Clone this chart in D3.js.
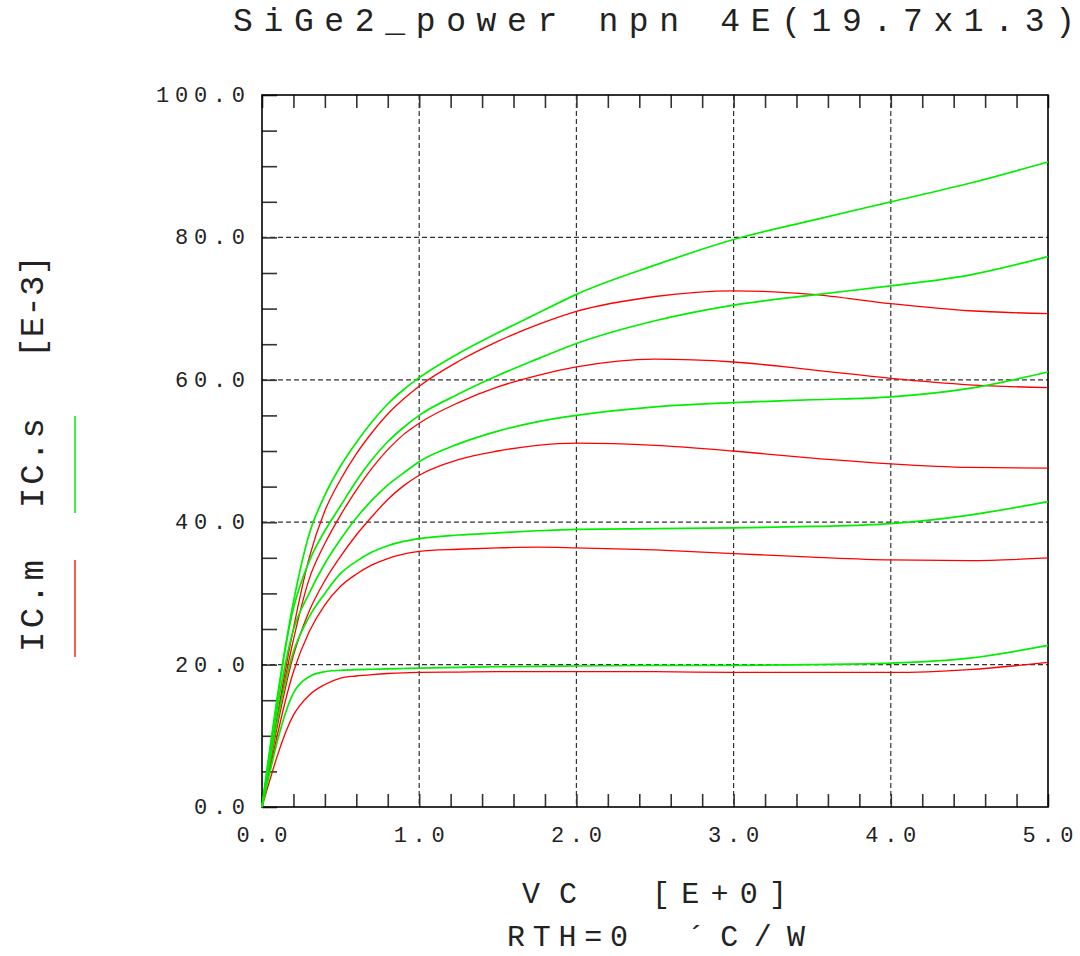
<!DOCTYPE html>
<html>
<head>
<meta charset="utf-8">
<script src="https://cdn.jsdelivr.net/npm/d3@7"></script>
<style>
  body { margin: 0; background: #fff; }
  svg text { font-family: "Liberation Mono", "DejaVu Sans Mono", monospace; fill: #222; }
</style>
</head>
<body>
<div id="chart"></div>
<script>
// collector voltage samples (V)
const vc = [0, 0.2, 0.3, 0.4, 0.5, 0.6, 0.7, 0.8, 0.9, 1.0, 1.25, 1.5, 1.75, 2.0, 2.5, 3.0, 3.5, 4.0, 4.5, 5.0];

// IC.m (measured, red) in mA
const icm1 = [0, 25.1, 35.0, 41.6, 46.0, 49.6, 52.6, 55.2, 57.3, 59.1, 62.6, 65.4, 67.7, 69.6, 71.7, 72.5, 72.0, 70.7, 69.7, 69.3];
const icm2 = [0, 23.5, 32.0, 37.0, 41.0, 44.5, 47.6, 50.2, 52.3, 53.9, 56.8, 59.0, 60.6, 61.8, 62.9, 62.5, 61.4, 60.2, 59.3, 58.9];
const icm3 = [0, 21.3, 27.5, 31.8, 35.2, 38.2, 40.8, 43.2, 45.1, 46.6, 48.8, 50.0, 50.8, 51.1, 50.8, 50.0, 49.0, 48.2, 47.7, 47.6];
const icm4 = [0, 19.0, 24.6, 28.4, 31.0, 32.7, 34.0, 34.9, 35.5, 35.9, 36.2, 36.4, 36.5, 36.4, 36.1, 35.6, 35.1, 34.7, 34.6, 35.0];
const icm5 = [0, 12.9, 15.7, 17.2, 18.1, 18.4, 18.6, 18.75, 18.85, 18.9, 18.95, 19.0, 19.0, 19.0, 19.0, 18.9, 18.9, 18.9, 19.3, 20.3];

// IC.s (simulated, green) in mA
const ics1 = [0, 28.8, 38.3, 43.8, 47.9, 51.2, 54.1, 56.6, 58.6, 60.3, 63.7, 66.6, 69.3, 72.0, 76.1, 79.7, 82.4, 85.0, 87.6, 90.6];
const ics2 = [0, 27.9, 34.5, 38.8, 42.3, 45.8, 48.8, 51.3, 53.3, 55.0, 58.0, 60.6, 62.9, 65.1, 68.3, 70.5, 71.9, 73.2, 74.7, 77.3];
const ics3 = [0, 24.9, 30.0, 34.2, 37.6, 40.6, 43.1, 45.2, 46.9, 48.5, 51.0, 52.8, 54.1, 55.0, 56.2, 56.8, 57.2, 57.6, 58.8, 61.1];
const ics4 = [0, 21.8, 26.7, 30.0, 32.8, 34.5, 35.8, 36.7, 37.3, 37.7, 38.2, 38.5, 38.8, 39.0, 39.1, 39.2, 39.4, 39.8, 41.0, 42.9];
const ics5 = [0, 16.0, 18.3, 19.0, 19.2, 19.3, 19.35, 19.4, 19.45, 19.5, 19.6, 19.7, 19.75, 19.8, 19.9, 19.9, 20.0, 20.2, 20.9, 22.7];

const xTickLabels = [0, 1, 2, 3, 4, 5];
const yTickLabels = [0, 20, 40, 60, 80, 100];

const width = 1080, height = 956;
const margin = { top: 95, right: 32, bottom: 149, left: 262 };
const plotW = width - margin.left - margin.right;
const plotH = height - margin.top - margin.bottom;

const svg = d3.select("#chart").append("svg")
    .attr("width", width)
    .attr("height", height);

svg.append("rect").attr("width", width).attr("height", height).attr("fill", "#fff");

const g = svg.append("g").attr("transform", `translate(${margin.left},${margin.top})`);

const x = d3.scaleLinear().domain([0, 5]).range([0, plotW]);
const y = d3.scaleLinear().domain([0, 100]).range([plotH, 0]);

// dashed grid
g.append("g").selectAll("line")
    .data([1, 2, 3, 4])
    .join("line")
    .attr("x1", d => x(d)).attr("x2", d => x(d))
    .attr("y1", 0).attr("y2", plotH)
    .attr("stroke", "#333").attr("stroke-width", 1.2)
    .attr("stroke-dasharray", "5,3");

g.append("g").selectAll("line")
    .data([20, 40, 60, 80])
    .join("line")
    .attr("x1", 0).attr("x2", plotW)
    .attr("y1", d => y(d)).attr("y2", d => y(d))
    .attr("stroke", "#333").attr("stroke-width", 1.2)
    .attr("stroke-dasharray", "5,3");

// minor ticks
const xMinor = d3.range(0, 26).map(i => i * 0.2);
const yMinor = d3.range(0, 21).map(i => i * 5);

const tickStyle = sel => {
    sel.select(".domain").remove();
    sel.selectAll(".tick line").attr("stroke", "#333").attr("stroke-width", 1.6);
    sel.selectAll(".tick text").remove();
};

g.append("g")
    .attr("transform", `translate(0,${plotH})`)
    .call(d3.axisBottom(x).tickValues(xMinor).tickSize(-13).tickFormat(""))
    .call(tickStyle);

g.append("g")
    .call(d3.axisTop(x).tickValues(xMinor).tickSize(-13).tickFormat(""))
    .call(tickStyle);

g.append("g")
    .call(d3.axisLeft(y).tickValues(yMinor).tickSize(-15).tickFormat(""))
    .call(tickStyle);

// frame
g.append("rect")
    .attr("width", plotW).attr("height", plotH)
    .attr("fill", "none").attr("stroke", "#000").attr("stroke-width", 1.6);

// tick labels
const pitch = 19, glyph = 13;
const fmt = d3.format(".1f");

g.append("g").selectAll("text")
    .data(yTickLabels)
    .join("text")
    .attr("x", -17)
    .attr("y", d => y(d) + 7)
    .attr("text-anchor", "end")
    .attr("font-size", 22)
    .attr("textLength", d => (fmt(d).length - 1) * pitch + glyph)
    .attr("lengthAdjust", "spacing")
    .text(d => fmt(d));

g.append("g").selectAll("text")
    .data(xTickLabels)
    .join("text")
    .attr("x", d => x(d))
    .attr("y", plotH + 35)
    .attr("text-anchor", "middle")
    .attr("font-size", 22)
    .attr("textLength", d => (fmt(d).length - 1) * pitch + glyph)
    .attr("lengthAdjust", "spacing")
    .text(d => fmt(d));

// curves
const measured = [icm1, icm2, icm3, icm4, icm5];
const simulated = [ics1, ics2, ics3, ics4, ics5];

const line = d3.line()
    .x((d, i) => x(vc[i]))
    .y(d => y(d))
    .curve(d3.curveMonotoneX);

g.append("g").selectAll("path")
    .data(measured)
    .join("path")
    .attr("d", line)
    .attr("fill", "none")
    .attr("stroke", "#ff0000")
    .attr("stroke-width", 1.3);

g.append("g").selectAll("path")
    .data(simulated)
    .join("path")
    .attr("d", line)
    .attr("fill", "none")
    .attr("stroke", "#00ee00")
    .attr("stroke-width", 1.7);

// title
svg.append("text")
    .attr("x", 233).attr("y", 31)
    .attr("font-size", 33)
    .attr("textLength", 842)
    .attr("lengthAdjust", "spacing")
    .text("SiGe2_power npn 4E(19.7x1.3)");

// x axis label
svg.append("text")
    .attr("x", 522).attr("y", 903)
    .attr("font-size", 30)
    .attr("textLength", 55).attr("lengthAdjust", "spacing")
    .text("VC");
svg.append("text")
    .attr("x", 652).attr("y", 903)
    .attr("font-size", 30)
    .attr("textLength", 135).attr("lengthAdjust", "spacing")
    .text("[E+0]");

svg.append("text")
    .attr("x", 507).attr("y", 946)
    .attr("font-size", 30)
    .attr("textLength", 121).attr("lengthAdjust", "spacing")
    .text("RTH=0");
svg.append("text")
    .attr("x", 687).attr("y", 946)
    .attr("font-size", 30)
    .attr("textLength", 118).attr("lengthAdjust", "spacing")
    .text("´C/W");

// y axis label with legend strokes
const yLabels = [
    { text: "IC.m", y0: 652, len: 92 },
    { text: "IC.s", y0: 508, len: 90 },
    { text: "[E-3]", y0: 358, len: 103 }
];
svg.append("g").selectAll("text")
    .data(yLabels)
    .join("text")
    .attr("transform", d => `translate(43,${d.y0}) rotate(-90)`)
    .attr("font-size", 34)
    .attr("textLength", d => d.len)
    .attr("lengthAdjust", "spacing")
    .text(d => d.text);

svg.append("line")
    .attr("x1", 75).attr("x2", 75).attr("y1", 560).attr("y2", 657)
    .attr("stroke", "#ff0000").attr("stroke-width", 1.3);
svg.append("line")
    .attr("x1", 75).attr("x2", 75).attr("y1", 416).attr("y2", 513)
    .attr("stroke", "#00ee00").attr("stroke-width", 1.5);
</script>
</body>
</html>
